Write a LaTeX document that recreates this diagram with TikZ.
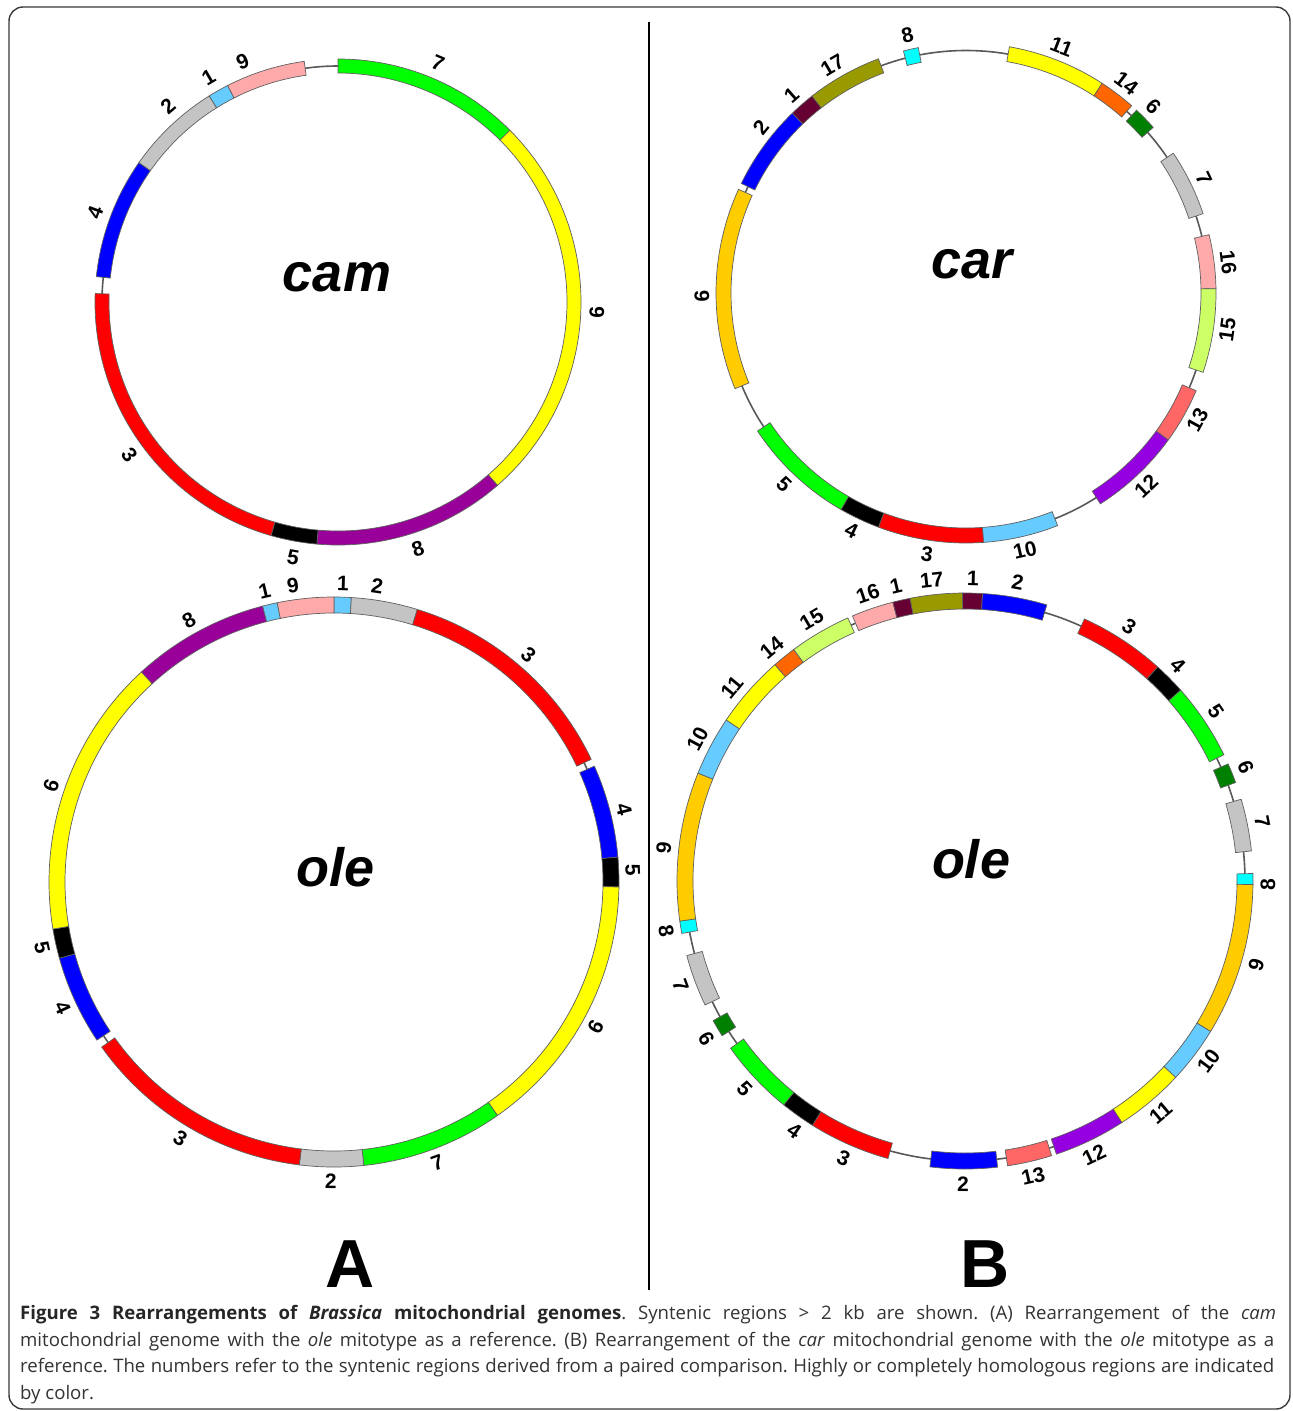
\documentclass[tikz,border=0pt]{standalone}
\usepackage{fontspec}
\setmainfont{Liberation Sans}
\newfontfamily\capfont{Open Sans}
\frenchspacing
\definecolor{cRed}{HTML}{FF0000}
\definecolor{cBlue}{HTML}{0000FF}
\definecolor{cYellow}{HTML}{FFFF00}
\definecolor{cGreen}{HTML}{00FF00}
\definecolor{cPurple}{HTML}{990099}
\definecolor{cViolet}{HTML}{9400E0}
\definecolor{cGray}{HTML}{C4C4C4}
\definecolor{cLblue}{HTML}{66CCFF}
\definecolor{cPink}{HTML}{FFAAAA}
\definecolor{cCyan}{HTML}{00FFFF}
\definecolor{cOrange}{HTML}{FFCC00}
\definecolor{cMaroon}{HTML}{660033}
\definecolor{cOlive}{HTML}{999900}
\definecolor{cOrng}{HTML}{FF6600}
\definecolor{cDgreen}{HTML}{008000}
\definecolor{cLgreen}{HTML}{CCFF66}
\definecolor{cSalmon}{HTML}{FF6666}
\definecolor{capgray}{HTML}{333333}
\definecolor{framegray}{HTML}{3A3A3A}
\newcommand\ringset[5]{\def\rcx{#1}\def\rcy{#2}\def\rro{#3}\def\rri{#4}\def\rrl{#5}}
\newcommand\ringseg[3]{%
  \filldraw[segline, fill=#3] ({\rcx+\rro*sin(#1)},{\rcy-\rro*cos(#1)})
    arc[start angle={#1-90}, end angle={#2-90}, radius=\rro]
    -- ({\rcx+\rri*sin(#2)},{\rcy-\rri*cos(#2)})
    arc[start angle={#2-90}, end angle={#1-90}, radius=\rri] -- cycle;}
\newcommand\ringthin{%
  \draw[thinring] (\rcx,\rcy) circle[radius={(\rro+\rri)/2}];}
\newcommand\ringlab[3]{%
  \pgfmathsetmacro\rrot{cos(#2)>-0.0001 ? -(#2) : 180-(#2)}%
  \node[numlab, rotate=\rrot] (#1) at ({\rcx+\rrl*sin(#2)},{\rcy-\rrl*cos(#2)}) {#3};}
\begin{document}
\begin{tikzpicture}[x=1pt,y=-1pt,
  segline/.style={draw=gray!75!black, line width=0.7pt},
  thinring/.style={draw=black!65, line width=1.6pt},
  numlab/.style={font=\bfseries\fontsize{21}{21}\selectfont, inner sep=0pt},
  ringname/.style={font=\bfseries\itshape\fontsize{54}{54}\selectfont, inner sep=0pt},
  panel/.style={font=\bfseries\fontsize{68}{68}\selectfont, inner sep=0pt},
  capline/.style={font=\capfont\fontsize{18.6}{18.6}\selectfont, text=capgray, inner sep=0pt, anchor=base west}]
\useasboundingbox (0,0) rectangle (1293,1411);
\fill[white] (0,0) rectangle (1293,1411);
\draw[framegray, line width=1.4pt, rounded corners=14pt] (9,7) rectangle (1290,1409);
\draw[black, line width=2pt] (649,22) -- (649,1290);

% ---------------- cam ----------------
\ringset{338}{302}{243}{229}{259}
\ringthin
\ringseg{0}{45}{cGreen}
\ringseg{45}{139}{cYellow}
\ringseg{139}{185}{cPurple}
\ringseg{185}{196}{black}
\ringseg{196}{272}{cRed}
\ringseg{276}{305}{cBlue}
\ringseg{305}{328}{cGray}
\ringseg{328}{333}{cLblue}
\ringseg{333}{352}{cPink}
\ringlab{camA}{22.7}{7}
\ringlab{camB}{92.2}{6}
\ringlab{camC}{162}{8}
\ringlab{camD}{190}{5}
\ringlab{camE}{233.7}{3}
\ringlab{camF}{290.3}{4}
\ringlab{camG}{319}{2}
\ringlab{camH}{330}{1}
\ringlab{camI}{338.4}{9}
\node[ringname] (camname) at (337,277) {cam};

% ---------------- ole (A) ----------------
\ringset{334}{882}{285}{269}{299}
\ringthin
\ringseg{0}{3.5}{cLblue}
\ringseg{3.5}{17}{cGray}
\ringseg{17}{64.5}{cRed}
\ringseg{66}{85}{cBlue}
\ringseg{85}{91}{black}
\ringseg{91}{145}{cYellow}
\ringseg{145}{174}{cGreen}
\ringseg{174}{187}{cGray}
\ringseg{187}{234.6}{cRed}
\ringseg{236.3}{254.5}{cBlue}
\ringseg{254.5}{260.5}{black}
\ringseg{260.5}{317.5}{cYellow}
\ringseg{317.5}{345.5}{cPurple}
\ringseg{345.5}{348.5}{cLblue}
\ringseg{348.5}{360}{cPink}
\ringlab{oaA}{346.6}{1}
\ringlab{oaB}{352.1}{9}
\ringlab{oaC}{1.7}{1}
\ringlab{oaD}{8.3}{2}
\ringlab{oaE}{331}{8}
\ringlab{oaF}{40.6}{3}
\ringlab{oaG}{76}{4}
\ringlab{oaH}{87.7}{5}
\ringlab{oaI}{119}{6}
\ringlab{oaJ}{159.8}{7}
\ringlab{oaK}{180.6}{2}
\ringlab{oaL}{210.9}{3}
\ringlab{oaM}{245.2}{4}
\ringlab{oaN}{257.4}{5}
\ringlab{oaO}{288.9}{6}
\node[ringname] (olenameA) at (336,867) {ole};

% ---------------- car ----------------
\ringset{966}{293}{250}{235}{264}
\ringthin
\ringseg{345.5}{349}{cCyan}
\ringseg{10}{33}{cYellow}
\ringseg{33}{41.5}{cOrng}
\ringseg{43}{48.5}{cDgreen}
\ringseg{56}{71.5}{cGray}
\ringseg{76.5}{89}{cPink}
\ringseg{89}{108.5}{cLgreen}
\ringseg{113}{126}{cSalmon}
\ringseg{126}{147.5}{cViolet}
\ringseg{158.5}{176}{cLblue}
\ringseg{176}{200.5}{cRed}
\ringseg{200.5}{210}{black}
\ringseg{210}{236.5}{cGreen}
\ringseg{247.5}{294.5}{cOrange}
\ringseg{296}{316}{cBlue}
\ringseg{316}{322}{cMaroon}
\ringseg{322}{339.5}{cOlive}
\ringlab{carA}{347.2}{8}
\ringlab{carB}{329.6}{17}
\ringlab{carC}{318.6}{1}
\ringlab{carD}{309}{2}
\ringlab{carE}{21.2}{11}
\ringlab{carF}{37.4}{14}
\ringlab{carG}{45.2}{6}
\ringlab{carH}{64.3}{7}
\ringlab{carI}{83.3}{16}
\ringlab{carJ}{98}{15}
\ringlab{carK}{118.8}{13}
\ringlab{carL}{137}{12}
\ringlab{carM}{167.1}{10}
\ringlab{carN}{188.5}{3}
\ringlab{carO}{205.7}{4}
\ringlab{carP}{223.6}{5}
\ringlab{carQ}{269.3}{9}
\node[ringname] (carname) at (972,264) {car};

% ---------------- ole (B) ----------------
\ringset{965}{881}{288}{272}{303}
\ringthin
\ringseg{-0.5}{3.5}{cMaroon}
\ringseg{3.5}{16.5}{cBlue}
\ringseg{24.5}{42}{cRed}
\ringseg{42}{48.5}{black}
\ringseg{48.5}{64}{cGreen}
\ringseg{66}{70}{cDgreen}
\ringseg{73.5}{84}{cGray}
\ringseg{88.5}{90.7}{cCyan}
\ringseg{90.7}{121.5}{cOrange}
\ringseg{121.5}{133}{cLblue}
\ringseg{133}{147}{cYellow}
\ringseg{147}{161.5}{cViolet}
\ringseg{162.5}{171.5}{cSalmon}
\ringseg{173.5}{187}{cBlue}
\ringseg{195.5}{212}{cRed}
\ringseg{212}{219}{black}
\ringseg{219}{234.5}{cGreen}
\ringseg{237.5}{241}{cDgreen}
\ringseg{244.5}{255}{cGray}
\ringseg{259.5}{262}{cCyan}
\ringseg{262}{292}{cOrange}
\ringseg{292}{304}{cLblue}
\ringseg{304}{318.7}{cYellow}
\ringseg{318.7}{323.5}{cOrng}
\ringseg{323.5}{336}{cLgreen}
\ringseg{337}{345.5}{cPink}
\ringseg{345.5}{349}{cMaroon}
\ringseg{349}{359.5}{cOlive}
\ringlab{obA}{341.3}{16}
\ringlab{obB}{346.8}{1}
\ringlab{obC}{353.7}{17}
\ringlab{obD}{1.5}{1}
\ringlab{obE}{10}{2}
\ringlab{obF}{329.6}{15}
\ringlab{obG}{320.4}{14}
\ringlab{obH}{309.7}{11}
\ringlab{obI}{298}{10}
\ringlab{obJ}{276.3}{9}
\ringlab{obK}{260.4}{8}
\ringlab{obL}{249.8}{7}
\ringlab{obM}{238.6}{6}
\ringlab{obN}{226.7}{5}
\ringlab{obO}{214.3}{4}
\ringlab{obP}{203.6}{3}
\ringlab{obQ}{180.4}{2}
\ringlab{obR}{167}{13}
\ringlab{obS}{154.8}{12}
\ringlab{obT}{139.8}{11}
\ringlab{obU}{126.5}{10}
\ringlab{obV}{106}{9}
\ringlab{obW}{90.6}{8}
\ringlab{obX}{78.8}{7}
\ringlab{obY}{67.9}{6}
\ringlab{obZ}{55.9}{5}
\ringlab{obAA}{44.6}{4}
\ringlab{obAB}{32.8}{3}
\node[ringname] (olenameB) at (971,859) {ole};

% ---------------- panel letters ----------------
\node[panel] (panelA) at (350,1264) {A};
\node[panel] (panelB) at (985,1264) {B};

% ---------------- caption ----------------
\node[capline] (cap1) at (20,1319) {\makebox[1256pt][s]{\textcolor{black!85}{\bfseries Figure 3 Rearrangements of \textit{Brassica} mitochondrial genomes}. Syntenic regions > 2 kb are shown. (A) Rearrangement of the \textit{cam}}};
\node[capline] (cap2) at (20,1346) {\makebox[1254pt][s]{mitochondrial genome with the \textit{ole} mitotype as a reference. (B) Rearrangement of the \textit{car} mitochondrial genome with the \textit{ole} mitotype as a}};
\node[capline] (cap3) at (20,1372) {\makebox[1254pt][s]{reference. The numbers refer to the syntenic regions derived from a paired comparison. Highly or completely homologous regions are indicated}};
\node[capline] (cap4) at (20,1399) {by color.};
\end{tikzpicture}
\end{document}
